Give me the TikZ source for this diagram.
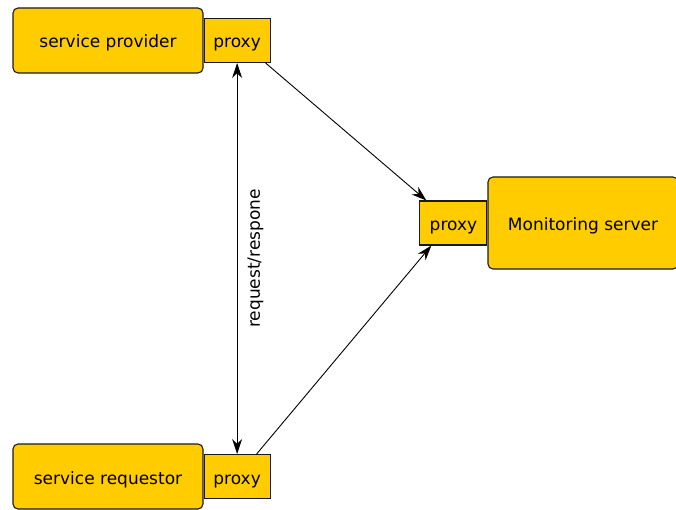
\documentclass[tikz,border=0pt]{standalone}
\usepackage{fontspec}
\setmainfont{DejaVu Sans}
\usetikzlibrary{arrows.meta,positioning}
\definecolor{boxyellow}{HTML}{FFCC00}
\definecolor{boxline}{HTML}{1A1A1A}

\begin{document}
\begin{tikzpicture}[x=1pt,y=-1pt,
  font=\fontsize{17}{20}\selectfont,
  host/.style={draw=boxline,fill=boxyellow,rounded corners=5pt,line width=1.1pt,
    minimum width=190pt,minimum height=65pt,inner sep=0pt,text height=15pt,text depth=0pt},
  proxy/.style={draw=boxline,fill=boxyellow,line width=1.1pt,
    minimum width=66pt,minimum height=44pt,inner sep=0pt,text height=15pt,text depth=0pt},
  link/.style={line width=0.9pt,-{Stealth[length=15pt,width=10pt]}},
  twoway/.style={line width=0.9pt,{Stealth[length=15pt,width=10pt]}-{Stealth[length=15pt,width=10pt]}}]
\useasboundingbox (0,0) rectangle (676,510);
\node[host] (prov) at (108,40.5) {service provider};
\node[proxy] (pprov) [right=0pt of prov] {proxy};
\node[host] (req) at (108,476.5) {service requestor};
\node[proxy] (preq) [right=0pt of req] {proxy};
\node[host, minimum height=92pt] (mon) at (583,223) {Monitoring server};
\node[proxy, minimum width=67pt] (pmon) [left=0pt of mon] {proxy};
\draw[twoway] (pprov.south) -- node[midway,rotate=90,anchor=north,inner sep=10pt] (rr) {request/respone} (preq.north);
\draw[link] ([xshift=-5pt]pprov.south east) -- ([xshift=7pt]pmon.north west);
\draw[link] ([xshift=-14pt]preq.north east) -- ([xshift=12pt]pmon.south west);
\end{tikzpicture}
\end{document}
